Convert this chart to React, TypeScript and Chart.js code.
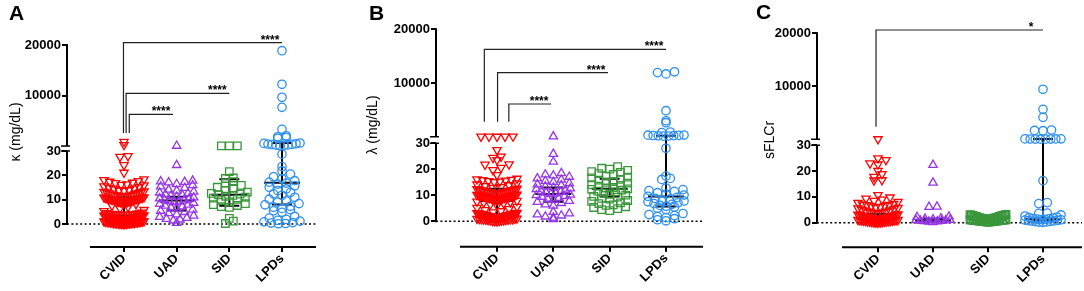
import React, { useEffect, useRef } from 'react';
import { Chart, registerables } from 'chart.js';
Chart.register(...registerables);

// ---------------- data ----------------
const CATEGORIES = ['CVID', 'UAD', 'SID', 'LPDs'];
const Y_TICKS = [0, 10, 20, 30, 10000, 20000];
const BREAK_AT = 30;
const AXIS_TOP = 20000;

const KAPPA_CVID = [880, 230, 27.9, 27.6, 24.2, 21.1, 18.4, 18.1, 17.7, 17.4, 17.0, 16.8, 16.3, 16.1, 15.9, 15.5, 15.2, 14.9, 14.6, 14.4, 14.0, 13.8, 13.7, 13.4, 13.2, 13.1, 12.9, 12.7, 12.6, 12.3, 12.1, 12.0, 11.9, 11.7, 11.6, 11.5, 11.4, 11.3, 11.2, 11.0, 10.9, 10.8, 10.7, 10.6, 10.5, 10.4, 10.3, 10.2, 10.1, 10.0, 9.9, 9.8, 9.7, 9.6, 9.5, 9.3, 9.2, 9.1, 9.0, 8.9, 8.8, 8.7, 10.8, 10.3, 9.9, 9.4, 9.0, 8.2, 7.6, 7.0, 6.4, 5.8, 5.3, 4.7, 4.5, 4.4, 4.3, 4.2, 4.1, 4.0, 3.9, 3.9, 3.8, 3.8, 3.7, 4.3, 4.1, 3.9, 3.8, 3.6, 3.5, 3.4, 3.3, 3.2, 3.1, 3.0, 2.9, 2.8, 2.7, 2.6, 2.5, 2.4, 2.3, 2.2, 2.1, 2.0, 1.9, 1.8, 1.7, 1.6, 1.5, 1.4, 1.3, 3.5, 3.2, 2.9, 2.6, 2.3, 2.0, 1.7, 1.4, 1.2, 1.1, 1.0, 0.9, 0.9, 0.8, 0.7, 0.7, 0.6, 0.5, 0.5, 0.4, 0.3, 0.3, 0.2, 0.2, 0.1, 0.1, 0.0, 0.0, 1.1, 0.9, 0.7, 0.5, 0.3, 0.1];
const KAPPA_UAD = [60, 24.2, 17.8, 17.5, 17.3, 17.1, 16.4, 15.9, 15.4, 14.8, 14.1, 13.7, 13.3, 12.9, 12.6, 12.2, 11.9, 11.6, 11.2, 10.9, 10.5, 10.2, 9.9, 9.7, 9.4, 9.2, 8.9, 8.6, 8.2, 7.9, 7.5, 7.2, 6.7, 6.3, 5.9, 5.4, 4.9, 4.4, 3.9, 3.4, 2.9, 2.5, 2.1, 1.8, 1.4, 0.4];
const KAPPA_SID = [55, 60, 48, 21.5, 18.9, 18.7, 17.4, 16.8, 15.9, 15.1, 14.6, 13.8, 13.1, 12.6, 12.3, 12.0, 11.8, 11.4, 11.0, 10.6, 10.1, 9.6, 9.1, 8.4, 8.0, 7.6, 7.1, 6.8, 2.3, 1.2, 0.2];
const KAPPA_LPD = [18870, 12230, 9660, 7680, 3330, 2050, 1850, 1700, 1550, 620, 540, 470, 410, 350, 300, 250, 200, 150, 100, 28.7, 23.6, 21.8, 20.5, 19.4, 18.6, 17.8, 17.2, 16.8, 16.4, 15.7, 15.1, 14.4, 13.7, 13.0, 12.4, 11.8, 11.0, 10.2, 9.5, 9.0, 8.4, 7.9, 7.3, 6.9, 6.4, 5.9, 5.4, 4.8, 3.1, 2.4, 1.9, 1.5, 1.2, 0.9, 0.6, 0.4, 0.2, 0.1];
const KAPPA_MEDIAN = [3.3, 9.7, 12.0, 17.0];
const KAPPA_Q1 = [1.5, 5.5, 7.5, 8.0];
const KAPPA_Q3 = [11.0, 11.2, 18.4, 600];
const KAPPA_BRACKETS = [
  { from: 0.99, to: 4, top: 20450, foot: 2600, label: '****' },
  { from: 1.04, to: 3, top: 10450, foot: 2600, label: '****' },
  { from: 1.1, to: 1.93, top: 6300, foot: 2600, label: '****' },
];

const LAMBDA_CVID = [70, 62, 55, 48, 40, 27.4, 24.9, 24.4, 23.6, 21.9, 21.8, 20.6, 19.7, 17.8, 16.4, 16.2, 16.0, 15.9, 15.7, 15.5, 15.3, 15.1, 14.6, 14.2, 13.9, 13.6, 13.2, 12.9, 12.6, 12.4, 12.3, 12.1, 12.0, 11.8, 11.7, 11.5, 11.4, 11.3, 11.1, 11.0, 10.9, 10.8, 10.7, 10.6, 10.5, 10.3, 10.2, 10.1, 10.0, 9.9, 9.8, 9.7, 9.6, 9.4, 9.3, 9.2, 9.1, 9.0, 8.9, 8.7, 8.6, 8.5, 8.3, 8.2, 8.1, 11.9, 11.4, 11.0, 10.6, 10.2, 9.8, 9.5, 9.1, 8.8, 8.4, 7.9, 7.6, 7.4, 7.2, 6.9, 6.5, 6.1, 5.6, 5.2, 4.7, 4.3, 3.9, 3.5, 3.3, 3.2, 3.1, 3.0, 3.0, 2.9, 2.8, 2.7, 2.7, 2.6, 2.5, 2.4, 2.4, 2.3, 2.2, 2.1, 2.0, 2.0, 1.9, 1.8, 1.7, 1.6, 1.6, 1.5, 1.4, 1.3, 1.3, 1.2, 3.2, 2.9, 2.6, 2.3, 2.0, 1.7, 1.4, 1.1, 1.0, 0.9, 0.8, 0.8, 0.7, 0.6, 0.5, 0.5, 0.4, 0.3, 0.2, 0.1, 0.0, 1.0, 0.8, 0.6, 0.4, 0.2];
const LAMBDA_UAD = [80, 25.9, 22.9, 18.5, 18.0, 17.6, 17.1, 16.5, 16.0, 15.5, 15.1, 14.6, 14.2, 13.8, 13.4, 13.0, 12.6, 12.3, 12.0, 11.6, 11.3, 11.0, 10.7, 10.5, 10.2, 10.0, 9.7, 9.4, 9.0, 8.6, 8.2, 7.8, 7.4, 7.0, 6.5, 6.0, 3.6, 3.0, 2.6, 2.2, 1.8, 1.4, 0.8];
const LAMBDA_SID = [21.0, 20.4, 20.1, 19.6, 19.1, 18.8, 18.3, 18.0, 17.4, 17.0, 16.7, 16.1, 15.8, 15.3, 15.0, 14.7, 14.1, 13.8, 13.5, 13.0, 12.8, 12.5, 12.3, 12.0, 11.6, 11.3, 10.8, 10.4, 10.1, 9.6, 9.3, 8.8, 8.5, 8.0, 7.7, 7.1, 6.8, 6.3, 6.1, 5.6, 5.3, 4.9, 4.5, 4.1];
const LAMBDA_LPD = [12100, 11950, 11700, 4860, 3000, 2630, 900, 800, 340, 310, 280, 250, 220, 190, 160, 130, 28.1, 17.4, 16.5, 16.1, 12.8, 12.2, 11.8, 11.5, 11.0, 10.5, 10.1, 9.6, 9.2, 8.8, 8.5, 8.1, 7.8, 7.5, 7.1, 6.8, 6.5, 6.1, 5.8, 5.5, 5.0, 4.5, 3.0, 2.6, 2.2, 1.8, 1.4, 1.0, 0.6, 0.2];
const LAMBDA_MEDIAN = [7.8, 10.5, 12.5, 9.5];
const LAMBDA_Q1 = [2.0, 7.5, 9.5, 5.7];
const LAMBDA_Q3 = [12.5, 13.0, 16.4, 200];
const LAMBDA_BRACKETS = [
  { from: 0.775, to: 4, top: 16280, foot: 2820, label: '****' },
  { from: 1.01, to: 2.97, top: 11930, foot: 2820, label: '****' },
  { from: 1.21, to: 1.96, top: 6110, foot: 2820, label: '****' },
];

const SFLCR_CVID = [60, 25.0, 24.3, 23.0, 22.6, 20.1, 18.9, 17.8, 16.5, 16.4, 10.7, 9.8, 9.4, 9.0, 8.5, 8.1, 7.7, 7.3, 7.1, 6.9, 6.8, 6.6, 6.4, 6.2, 6.0, 5.8, 5.6, 5.3, 5.0, 4.7, 4.4, 4.2, 4.0, 3.9, 3.7, 3.5, 3.3, 3.1, 3.0, 2.8, 2.6, 2.5, 2.3, 2.2, 2.0, 1.9, 1.8, 1.7, 1.6, 1.5, 1.4, 1.3, 1.2, 3.2, 2.9, 2.4, 2.1, 1.8, 1.5, 1.1, 1.0, 1.0, 0.9, 0.8, 0.8, 0.7, 0.6, 0.5, 0.5, 0.4, 0.3, 0.2, 0.1, 0.1, 0.0, 1.1, 0.9, 0.7, 0.5, 0.3, 0.1];
const SFLCR_UAD = [22.4, 15.5, 6.2, 6.1, 2.4, 2.2, 1.7, 1.5, 1.3, 1.1, 1.0, 0.9, 0.8, 0.7, 0.6, 0.5, 0.4, 0.2];
const SFLCR_SID = [3.2, 3.1, 3.0, 2.9, 2.8, 2.7, 2.6, 2.5, 2.4, 2.3, 2.2, 2.1, 2.0, 1.9, 1.8, 1.7, 1.6, 1.5, 1.4, 1.3, 1.2, 1.2, 1.1, 1.1, 1.0, 1.0, 0.9, 0.9, 0.8, 0.8, 0.7, 0.7, 0.6, 0.6, 0.5, 0.5, 0.4, 0.4, 0.3, 0.3, 0.2, 0.2, 2.7, 2.4, 2.1, 1.8, 1.6, 1.4, 1.0, 0.8, 0.6, 0.4];
const SFLCR_LPD = [9450, 5680, 4170, 1780, 1700, 1650, 120, 110, 100, 90, 80, 70, 60, 50, 16.3, 7.8, 7.4, 3.7, 3.6, 3.0, 2.6, 2.2, 2.0, 1.8, 1.6, 1.5, 1.4, 1.3, 1.2, 1.1, 1.0, 0.9, 0.8, 0.7, 0.6, 0.5, 0.4, 0.3, 0.2, 0.1];
const SFLCR_MEDIAN = [1.3, 0.9, 1.1, 1.3];
const SFLCR_Q1 = [0.6, 0.5, 0.8, 0.8];
const SFLCR_Q3 = [3.5, 1.5, 1.5, 100];
const SFLCR_BRACKETS = [{ from: 0.964, to: 4, top: 20620, foot: 2400, label: '*' }];

// ---------------- styles / layout ----------------
const FONT = '"Liberation Sans", Arial, Helvetica, sans-serif';
const H = 291;
const SERIES_STYLE = [
  { color: '#FF0000', style: 'triangle', rotation: 180, radius: 4.8, step: 8, half: 20 },
  { color: '#9436E6', style: 'triangle', rotation: 0, radius: 4.8, step: 8, half: 17 },
  { color: '#3A963A', style: 'rect', rotation: 0, radius: 5.3, step: 8, half: 18 },
  { color: '#2D8FEF', style: 'circle', rotation: 0, radius: 4.2, step: 8.5, half: 18 },
];

type Geom = {
  left: number; width: number; axisX: number; rightX: number; zeroY: number; y30: number; yBreak: number;
  yTop: number; xAxisY: number; cat1: number; cat4: number; xLineStart: number;
  letterX: number; letterY: number; titleX: number; titleY: number;
};

const PANELS = [
  {
    letter: 'A', title: 'κ (mg/dL)',
    series: [KAPPA_CVID, KAPPA_UAD, KAPPA_SID, KAPPA_LPD],
    median: KAPPA_MEDIAN, q1: KAPPA_Q1, q3: KAPPA_Q3, brackets: KAPPA_BRACKETS,
    g: { left: 0, width: 360, axisX: 67, rightX: 316, zeroY: 224, y30: 151, yBreak: 146, yTop: 45, xAxisY: 247,
      cat1: 124, cat4: 282, xLineStart: 90, letterX: 9, letterY: 20, titleX: 16, titleY: 132 } as Geom,
  },
  {
    letter: 'B', title: 'λ (mg/dL)',
    series: [LAMBDA_CVID, LAMBDA_UAD, LAMBDA_SID, LAMBDA_LPD],
    median: LAMBDA_MEDIAN, q1: LAMBDA_Q1, q3: LAMBDA_Q3, brackets: LAMBDA_BRACKETS,
    g: { left: 360, width: 360, axisX: 436, rightX: 703, zeroY: 221.3, y30: 143.3, yBreak: 136.7, yTop: 29.3, xAxisY: 246.7,
      cat1: 497, cat4: 666, xLineStart: 460, letterX: 369, letterY: 20, titleX: 373, titleY: 125 } as Geom,
  },
  {
    letter: 'C', title: 'sFLCr',
    series: [SFLCR_CVID, SFLCR_UAD, SFLCR_SID, SFLCR_LPD],
    median: SFLCR_MEDIAN, q1: SFLCR_Q1, q3: SFLCR_Q3, brackets: SFLCR_BRACKETS,
    g: { left: 720, width: 364, axisX: 817, rightX: 1082, zeroY: 222.7, y30: 145.3, yBreak: 139.3, yTop: 33.3, xAxisY: 247.3,
      cat1: 878, cat4: 1043, xLineStart: 842, letterX: 756, letterY: 18.5, titleX: 770, titleY: 140 } as Geom,
  },
];

// broken-axis transform: value -> display units (pixels above the zero line)
function makeTransform(g: Geom) {
  const lowerPerUnit = (g.zeroY - g.y30) / BREAK_AT;
  const upperStart = g.zeroY - g.yBreak;
  const upperSpan = g.yBreak - g.yTop;
  return (v: number) =>
    v <= BREAK_AT ? v * lowerPerUnit : upperStart + ((v - BREAK_AT) / (AXIS_TOP - BREAK_AT)) * upperSpan;
}

// GraphPad-like scatter-dot layout: spread points of similar value horizontally
function swarmOffsets(disp: number[], rowPx: number, stepPx: number, maxHalf: number) {
  const bins = new Map<number, number[]>();
  disp.forEach((d, i) => {
    const b = Math.round(d / rowPx);
    if (!bins.has(b)) bins.set(b, []);
    bins.get(b)!.push(i);
  });
  const out = new Array(disp.length).fill(0);
  bins.forEach((idx) => {
    idx.sort((a, b) => disp[a] - disp[b]);
    const n = idx.length;
    const step = n > 1 ? Math.min(stepPx, (2 * maxHalf) / (n - 1)) : 0;
    const slots = Array.from({ length: n }, (_, k) => (k - (n - 1) / 2) * step).sort(
      (a, b) => Math.abs(a) - Math.abs(b) || a - b
    );
    idx.forEach((i, k) => (out[i] = slots[k]));
  });
  return out;
}

function buildConfig(p: typeof PANELS[number]): any {
  const g = p.g;
  const T = makeTransform(g);
  const pxPerCat = (g.cat4 - g.cat1) / 3;
  const xMin = 1 - (g.cat1 - g.axisX) / pxPerCat;
  const xMax = 4 + (g.rightX - g.cat4) / pxPerCat;

  const datasets = p.series.map((vals, si) => {
    const disp = vals.map(T);
    const st = SERIES_STYLE[si];
    const offs = swarmOffsets(disp, 6, st.step, st.half);
    return {
      label: CATEGORIES[si],
      data: vals.map((_, j) => ({ x: si + 1 + offs[j] / pxPerCat, y: disp[j] })),
      pointStyle: st.style,
      rotation: st.rotation,
      pointRadius: st.radius,
      pointBorderWidth: 1.3,
      borderColor: st.color,
      pointBorderColor: st.color,
      backgroundColor: 'rgba(0,0,0,0)',
      pointBackgroundColor: 'rgba(0,0,0,0)',
      showLine: false,
      clip: false,
    };
  });

  const decor = {
    id: 'decor' + p.letter,
    beforeDatasetsDraw(chart: any) {
      const { ctx, chartArea, scales } = chart;
      const xs = scales.x;
      const ys = scales.y;
      const X = (v: number) => xs.getPixelForValue(v);
      const Y = (v: number) => ys.getPixelForValue(T(v));
      const y0 = ys.getPixelForValue(0);
      ctx.save();
      ctx.strokeStyle = '#000';
      ctx.lineWidth = 1.6;
      ctx.setLineDash([2, 2.4]);
      ctx.beginPath();
      ctx.moveTo(chartArea.left, y0);
      ctx.lineTo(chartArea.right, y0);
      ctx.stroke();
      ctx.setLineDash([]);
      // median with interquartile range (drawn under the symbols)
      ctx.lineWidth = 2;
      for (let i = 0; i < 4; i++) {
        const cx = X(i + 1);
        const ym = Y(p.median[i]);
        const ya = Y(p.q1[i]);
        const yb = Y(p.q3[i]);
        ctx.beginPath();
        ctx.moveTo(cx - 18, ym);
        ctx.lineTo(cx + 18, ym);
        ctx.moveTo(cx, ya);
        ctx.lineTo(cx, yb);
        ctx.moveTo(cx - 10, ya);
        ctx.lineTo(cx + 10, ya);
        ctx.moveTo(cx - 10, yb);
        ctx.lineTo(cx + 10, yb);
        ctx.stroke();
      }
      ctx.restore();
    },
    afterDatasetsDraw(chart: any) {
      const { ctx, chartArea, scales } = chart;
      const xs = scales.x;
      const ys = scales.y;
      const X = (v: number) => xs.getPixelForValue(v);
      const Y = (v: number) => ys.getPixelForValue(T(v));
      const ax = chartArea.left;
      ctx.save();
      ctx.strokeStyle = '#000';
      ctx.lineWidth = 2;
      ctx.lineCap = 'butt';
      // y axis (broken)
      const yl0 = ys.getPixelForValue(0);
      const yl1 = ys.getPixelForValue(T(BREAK_AT));
      const yu0 = ys.getPixelForValue(g.zeroY - g.yBreak);
      const yu1 = Y(AXIS_TOP);
      ctx.beginPath();
      ctx.moveTo(ax, yl0 + 1);
      ctx.lineTo(ax, yl1);
      ctx.moveTo(ax, yu0);
      ctx.lineTo(ax, yu1 - 1);
      ctx.stroke();
      ctx.lineWidth = 1.6;
      ctx.beginPath();
      ctx.moveTo(ax - 6, yl1);
      ctx.lineTo(ax + 3, yl1);
      ctx.moveTo(ax - 6, yu0);
      ctx.lineTo(ax + 3, yu0);
      ctx.stroke();
      // x axis line
      ctx.lineWidth = 2;
      ctx.beginPath();
      ctx.moveTo(g.xLineStart - g.left, chartArea.bottom);
      ctx.lineTo(chartArea.right, chartArea.bottom);
      ctx.stroke();
      // significance brackets
      ctx.strokeStyle = '#222';
      ctx.lineWidth = 1.2;
      ctx.fillStyle = '#000';
      ctx.font = `bold 12px ${FONT}`;
      ctx.textAlign = 'center';
      ctx.textBaseline = 'alphabetic';
      p.brackets.forEach((b) => {
        const x0 = X(b.from);
        const x1 = X(b.to);
        const yt = Y(b.top);
        const yf = Y(b.foot);
        ctx.beginPath();
        ctx.moveTo(x0, yf);
        ctx.lineTo(x0, yt);
        ctx.lineTo(x1, yt);
        ctx.stroke();
        ctx.fillText(b.label, x1 - 12, yt + 1);
      });
      // y title
      ctx.save();
      ctx.translate(g.titleX - g.left, g.titleY);
      ctx.rotate(-Math.PI / 2);
      ctx.font = `14px ${FONT}`;
      ctx.textAlign = 'center';
      ctx.textBaseline = 'middle';
      ctx.fillText(p.title, 0, 0);
      ctx.restore();
      // panel letter
      ctx.font = `bold 21px ${FONT}`;
      ctx.textAlign = 'left';
      ctx.textBaseline = 'alphabetic';
      ctx.fillText(p.letter, g.letterX - g.left, g.letterY);
      ctx.restore();
    },
  };

  return {
    type: 'scatter',
    data: { datasets },
    options: {
      animation: false,
      responsive: false,
      maintainAspectRatio: false,
      devicePixelRatio: 1,
      events: [],
      layout: { autoPadding: false, padding: { left: 0, top: 0, bottom: 0, right: g.width - (g.rightX - g.left) } },
      plugins: { legend: { display: false }, tooltip: { enabled: false } },
      scales: {
        x: {
          type: 'linear',
          position: 'bottom',
          min: xMin,
          max: xMax,
          afterBuildTicks: (s: any) => {
            s.ticks = CATEGORIES.map((_, i) => ({ value: i + 1 }));
          },
          afterFit: (s: any) => {
            s.height = H - g.xAxisY;
            s.paddingLeft = 0;
            s.paddingRight = 0;
          },
          border: { display: false },
          grid: { display: true, drawOnChartArea: false, drawTicks: true, tickLength: 5, color: '#000', lineWidth: 2 },
          ticks: {
            autoSkip: false,
            minRotation: 45,
            maxRotation: 45,
            padding: -1,
            color: '#000',
            font: { family: FONT, size: 13, weight: 'bold' },
            callback: (_v: any, i: number) => CATEGORIES[i],
          },
        },
        y: {
          type: 'linear',
          position: 'left',
          min: -(g.xAxisY - g.zeroY),
          max: g.zeroY,
          afterBuildTicks: (s: any) => {
            s.ticks = Y_TICKS.map((v) => ({ value: T(v) }));
          },
          afterFit: (s: any) => {
            s.width = g.axisX - g.left;
            s.paddingTop = 0;
            s.paddingBottom = 0;
          },
          border: { display: false },
          grid: { display: true, drawOnChartArea: false, drawTicks: true, tickLength: 5, color: '#000', lineWidth: 2 },
          ticks: {
            autoSkip: false,
            padding: 1,
            color: '#000',
            font: { family: FONT, size: 13, weight: 'bold' },
            callback: (_v: any, i: number) => String(Y_TICKS[i]),
          },
        },
      },
    },
    plugins: [decor],
  };
}

function Panel({ p }: { p: typeof PANELS[number] }) {
  const ref = useRef<HTMLCanvasElement>(null);
  useEffect(() => {
    const chart = new Chart(ref.current!, buildConfig(p));
    return () => chart.destroy();
  }, [p]);
  return (
    <canvas
      ref={ref}
      width={p.g.width}
      height={H}
      style={{ position: 'absolute', left: p.g.left, top: 0, width: p.g.width, height: H }}
    />
  );
}

export default function App() {
  return (
    <div style={{ position: 'absolute', left: 0, top: 0, width: 1084, height: H, background: '#fff', overflow: 'hidden' }}>
      {PANELS.map((p) => (
        <Panel key={p.letter} p={p} />
      ))}
    </div>
  );
}
